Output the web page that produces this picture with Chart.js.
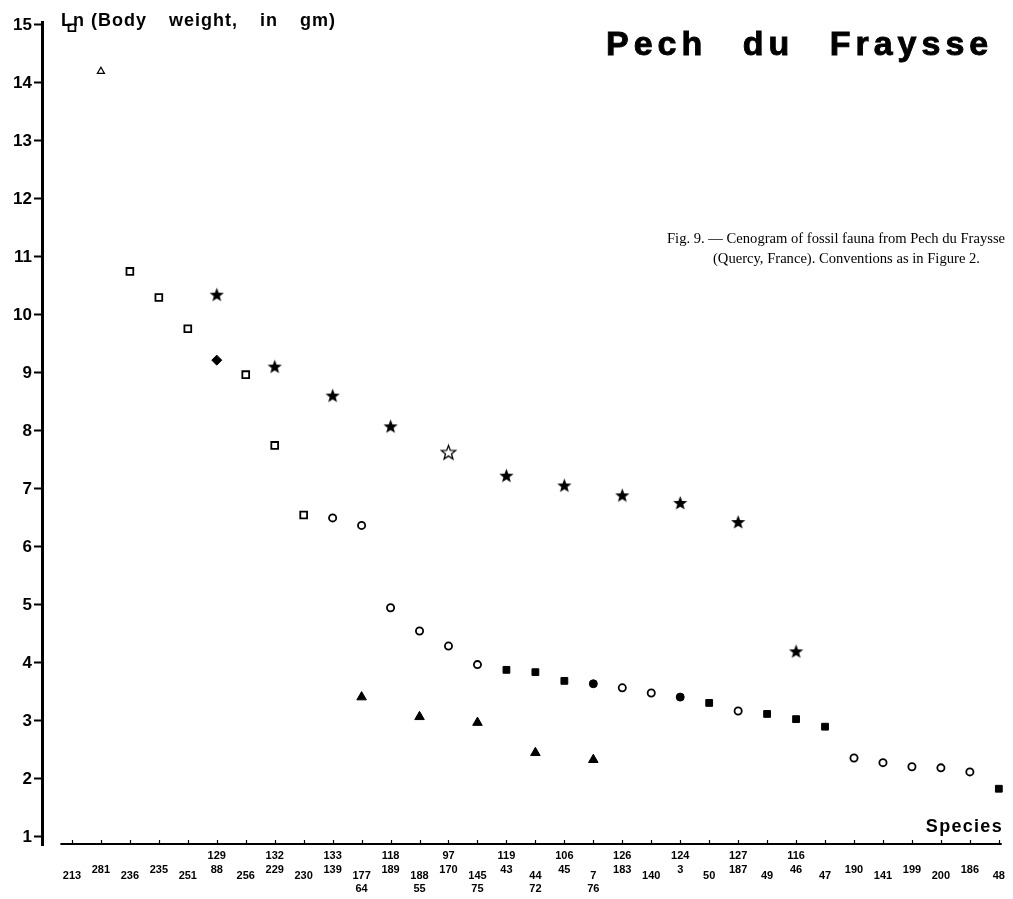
<!DOCTYPE html>
<html>
<head>
<meta charset="utf-8">
<title>Pech du Fraysse</title>
<script src="https://cdn.jsdelivr.net/npm/chart.js@4.4.0/dist/chart.umd.min.js"></script>
<style>
  html, body { margin: 0; padding: 0; background: #fff; }
  #wrap { position: relative; width: 1013px; height: 899px; overflow: hidden; }
  #chart { position: absolute; left: 0; top: 0; }
  .txt { position: absolute; color: #000; white-space: nowrap; }
  #title {
    left: 606px; top: 26px;
    font: bold 34px/34px "Liberation Sans", Arial, sans-serif;
    letter-spacing: 5px; word-spacing: 21px;
    -webkit-text-stroke: 0.9px #000;
  }
  #ytitle {
    left: 61px; top: 11px;
    font: bold 18px/18px "Liberation Sans", Arial, sans-serif;
    letter-spacing: 1px;
  }
  #ytitle .wide { word-spacing: 16px; }
  #xtitle {
    right: 10px; top: 817px;
    font: bold 18px/18px "Liberation Sans", Arial, sans-serif;
    letter-spacing: 1.3px;
  }
  #caption {
    left: 667px; top: 228px;
    font: 14.6px/20px "Liberation Serif", "Times New Roman", serif;
  }
  #caption .l2 { padding-left: 46px; }
</style>
</head>
<body>
<div id="wrap">
  <canvas id="chart" width="1013" height="899"></canvas>
  <div class="txt" id="ytitle">Ln <span class="wide">(Body weight, in gm)</span></div>
  <div class="txt" id="title">Pech du Fraysse</div>
  <div class="txt" id="caption">Fig. 9. — Cenogram of fossil fauna from Pech du Fraysse<br><span class="l2">(Quercy, France). Conventions as in Figure 2.</span></div>
  <div class="txt" id="xtitle">Species</div>
</div>
<script>
// species, rank position on the x axis, ln(body weight) and symbol
const speciesIds = ['213','281','236','235','251','129','88','256','132','229','230','133','139',
  '177','64','118','189','188','55','97','170','145','75','119','43','44','72','106','45','7','76',
  '126','183','140','124','3','50','127','187','49','116','46','47','190','141','199','200','186','48']
const speciesPos = [0,1,2,3,4,5,5,6,7,7,8,9,9,
  10,10,11,11,12,12,13,13,14,14,15,15,16,16,17,17,18,18,
  19,19,20,21,21,22,23,23,24,25,25,26,27,28,29,30,31,32]
const lnWeight = [14.95,14.2,10.75,10.3,9.76,10.34,9.22,8.97,9.1,7.75,6.55,8.6,6.5,
  6.37,3.41,8.07,4.95,4.55,3.07,7.62,4.29,3.97,2.97,7.22,3.88,3.84,2.45,7.05,3.69,3.64,2.33,
  6.88,3.57,3.48,6.75,3.41,3.31,6.42,3.17,3.12,4.19,3.03,2.9,2.36,2.28,2.21,2.19,2.12,1.83]
const markerKind = ['osq','otri','osq','osq','osq','star','diam','osq','star','osq','osq','star','ocir',
  'ocir','ftri','star','ocir','ocir','ftri','ostar','ocir','ocir','ftri','star','fsq','fsq','ftri','star','fsq','fcir','ftri',
  'star','ocir','ocir','star','fcir','fsq','star','ocir','fsq','star','fsq','fsq','ocir','ocir','ocir','ocir','ocir','fsq']

// tick labels under the axis, three rows
const labelTop = ['','','','','','129','','132','','133','','118','','97','','119','','106','','126','',
  '124','','127','','116','','','','','','','']
const labelMid = ['213','281','236','235','251','88','256','229','230','139','177','189','188','170','145','43',
  '44','45','7','183','140','3','50','187','49','46','47','190','141','199','200','186','48']
const labelLow = ['','','','','','','','','','','64','','55','','75','','72','','76','',
  '','','','','','','','','','','','','']

const yTicks = [1,2,3,4,5,6,7,8,9,10,11,12,13,14,15]

const FONT = '"Liberation Sans", Arial, sans-serif'

function makeStar(r, filled) {
  const c = document.createElement('canvas')
  const s = Math.ceil(r * 2 + 4)
  c.width = s
  c.height = s
  const g = c.getContext('2d')
  g.beginPath()
  for (let i = 0; i < 10; i++) {
    const rad = i % 2 ? r * 0.42 : r
    const a = -Math.PI / 2 + i * Math.PI / 5
    g.lineTo(s / 2 + rad * Math.cos(a), s / 2 + rad * Math.sin(a))
  }
  g.closePath()
  if (filled) {
    g.fillStyle = '#000'
    g.fill()
  } else {
    g.lineWidth = 1.3
    g.strokeStyle = '#000'
    g.stroke()
  }
  return c
}

// symbol styles
const markerStyles = {
  osq: { pointStyle: 'rect', pointRadius: 4.8, pointBorderWidth: 1.8, pointBackgroundColor: '#fff' },
  fsq: { pointStyle: 'rect', pointRadius: 4.8, pointBorderWidth: 1, pointBackgroundColor: '#000' },
  otri: { pointStyle: 'triangle', pointRadius: 4, pointBorderWidth: 1.3, pointBackgroundColor: '#fff' },
  ftri: { pointStyle: 'triangle', pointRadius: 5.5, pointBorderWidth: 1, pointBackgroundColor: '#000' },
  ocir: { pointStyle: 'circle', pointRadius: 3.6, pointBorderWidth: 1.8, pointBackgroundColor: '#fff' },
  fcir: { pointStyle: 'circle', pointRadius: 4, pointBorderWidth: 1, pointBackgroundColor: '#000' },
  diam: { pointStyle: 'rectRot', pointRadius: 5, pointBorderWidth: 1, pointBackgroundColor: '#000' },
  star: { pointStyle: makeStar(7.5, true), pointRadius: 7 },
  ostar: { pointStyle: makeStar(7.5, false), pointRadius: 7 },
}

const datasets = Object.keys(markerStyles).map((kind) => {
  const pts = []
  markerKind.forEach((k, i) => {
    if (k === kind) pts.push({ x: speciesPos[i], y: lnWeight[i], id: speciesIds[i] })
  })
  return {
    label: kind,
    data: pts,
    showLine: false,
    pointBorderColor: '#000',
    ...markerStyles[kind],
  }
})

// x axis line stops short of the y axis, with small upward ticks
const xAxisLine = {
  id: 'xAxisLine',
  beforeDatasetsDraw(chart) {
    const { ctx, chartArea, scales } = chart
    const x = scales.x
    const y0 = chartArea.bottom - 1
    ctx.save()
    ctx.strokeStyle = '#000'
    ctx.lineWidth = 2
    ctx.beginPath()
    ctx.moveTo(x.getPixelForValue(-0.4), y0)
    ctx.lineTo(x.getPixelForValue(32.1), y0)
    ctx.stroke()
    ctx.lineWidth = 1.2
    labelMid.forEach((_, i) => {
      const px = Math.round(x.getPixelForValue(i)) + 0.5
      ctx.beginPath()
      ctx.moveTo(px, y0)
      ctx.lineTo(px, y0 - 4)
      ctx.stroke()
    })
    ctx.restore()
  },
}

new Chart(document.getElementById('chart'), {
  type: 'scatter',
  data: { datasets },
  options: {
    responsive: false,
    animation: false,
    devicePixelRatio: 1,
    layout: { padding: { top: 22, left: 0, right: 0, bottom: 0 } },
    plugins: {
      legend: { display: false },
      tooltip: { enabled: false },
      title: { display: false },
    },
    scales: {
      x: {
        type: 'linear',
        min: -1.034,
        max: 32.21,
        afterBuildTicks: (scale) => {
          scale.ticks = labelMid.map((_, i) => ({ value: i }))
        },
        afterFit: (scale) => {
          scale.height = 54
        },
        grid: { display: false, drawTicks: false },
        border: { display: false },
        ticks: {
          autoSkip: false,
          maxRotation: 0,
          minRotation: 0,
          padding: 8,
          color: '#000',
          font: { family: FONT, size: 11, weight: 'bold', lineHeight: 0.6 },
          callback: (value) => {
            const i = Math.round(value)
            const odd = i % 2 === 1
            return [labelTop[i], '', odd ? labelMid[i] : '', odd ? '' : labelMid[i], '', labelLow[i]]
          },
        },
      },
      y: {
        min: 0.86,
        max: 15.05,
        afterBuildTicks: (scale) => {
          scale.ticks = yTicks.map((v) => ({ value: v }))
        },
        afterFit: (scale) => {
          scale.width = 42
        },
        grid: { display: true, drawOnChartArea: false, drawTicks: true, tickLength: 8, tickWidth: 2, tickColor: '#000' },
        border: { display: true, width: 3, color: '#000' },
        ticks: {
          padding: 2,
          color: '#000',
          font: { family: FONT, size: 17, weight: 'bold' },
        },
      },
    },
  },
  plugins: [xAxisLine],
})
</script>
</body>
</html>
